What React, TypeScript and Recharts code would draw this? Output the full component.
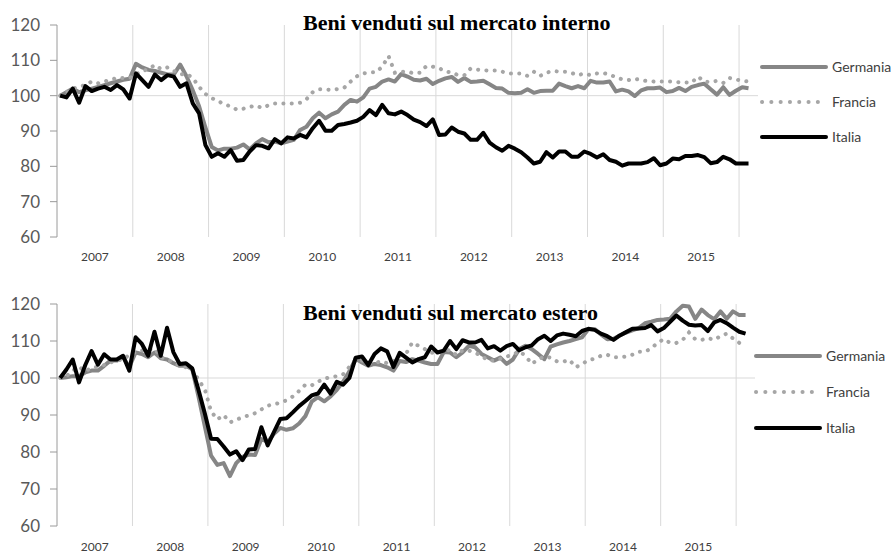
import { Line, LineChart, ReferenceLine, XAxis, YAxis } from "recharts";

// monthly index numbers, Jan 2007 = 100, Jan 2007 .. Feb 2016
const years = ["2007", "2008", "2009", "2010", "2011", "2012", "2013", "2014", "2015"];
const yTicks = [60, 70, 80, 90, 100, 110, 120];

const germaniaInterno = [
  100, 101, 102, 101, 101.5, 102, 102.5, 103, 103.5, 104, 104.5, 104.8,
  109, 108, 107.3, 107, 106.5, 106, 106, 108.8, 105.5, 101.5, 97, 91,
  85.5, 84.5, 85, 85, 85.3, 86.2, 84.8, 86.5, 87.7, 86.8, 87, 86.5,
  87, 87.5, 90.3, 91.2, 93.6, 95.2, 93.6, 94.7, 95.5, 97.4, 98.8, 98.3,
  99.5, 102, 102.5, 104, 104.6, 104, 106.1, 105.4, 104.5, 104.3, 104.8, 103.3,
  104.2, 104.9, 105.3, 103.9, 105, 103.9, 104, 104.2, 103.2, 102.2, 102, 100.8,
  100.7, 100.8, 101.8, 100.8, 101.3, 101.4, 101.4, 103.4, 102.7, 102.1, 102.7, 102.1,
  104.2, 103.7, 103.7, 104, 101.2, 101.7, 101.2, 99.9, 101.5, 102.1, 102.1, 102.3,
  101, 101.3, 102.2, 101.3, 102.5, 103, 103.4, 101.8, 100.3, 102.4, 100.2, 101.4,
  102.4, 102.1,
];

const franciaInterno = [
  100, 101, 102, 102.5, 103, 104, 103.5, 104, 104.5, 105, 105, 105,
  106, 107, 107.5, 108.7, 107.5, 108, 107, 106, 106.2, 105, 102.5, 100.5,
  99.3, 98.5, 97.5, 97, 96, 96.3, 96.8, 97.2, 96.5, 97.3, 97.8, 97.8,
  97.8, 97.8, 98, 99, 101, 101.8, 101.8, 101.6, 101.9, 102.3, 104, 105.5,
  106.3, 106.6, 106.6, 108.2, 111.2, 106.5, 106.8, 106.8, 106.3, 106.5, 108.4, 108.2,
  107.8, 106.8, 106.6, 105.8, 105.8, 107.7, 107.4, 107.2, 107.1, 107.1, 106.8, 106.3,
  106.3, 106.3, 105.6, 106.8, 105.6, 106.5, 107, 106.8, 106.8, 106.4, 105.8, 106.3,
  105.8, 106.3, 106.4, 106, 105.2, 104.6, 104.4, 104.8, 104.4, 104.1, 104, 104,
  104, 104, 103.8, 103.7, 103.7, 105.4, 104, 103.8, 104.2, 103.6, 105, 104.6,
  104.2, 104,
];

const italiaInterno = [
  100, 99.5, 102, 98, 102.7, 101.3, 102, 102.5, 101.6, 103, 101.8, 99.2,
  106.3, 104.4, 102.5, 106, 104.4, 105.8, 105.4, 102.5, 103.5, 97.8, 95, 86,
  82.7, 83.7, 82.7, 84.6, 81.6, 81.8, 84.2, 86, 85.8, 85.1, 87.7, 86.5,
  88.2, 87.9, 88.9, 88.2, 90.8, 92.9, 90.1, 90.1, 91.7, 92, 92.4, 92.9,
  94, 95.9, 94.5, 97.4, 95, 94.7, 95.5, 94.5, 93.2, 92.5, 91.4, 93.3,
  88.9, 89, 91, 89.8, 89.3, 87.5, 87.5, 89.5, 86.7, 85.4, 84.4, 85.8,
  85, 84, 82.5, 80.8, 81.3, 84, 82.5, 84.2, 84.2, 82.7, 82.7, 84.2,
  83.5, 82.5, 83.4, 81.8, 81.3, 80.2, 80.8, 80.8, 80.8, 81.2, 82.3, 80.3,
  80.8, 82.2, 82, 82.9, 82.9, 83.2, 82.6, 80.9, 81.2, 82.7, 82, 80.8,
  80.8, 80.8,
];

const germaniaEstero = [
  100, 100.2, 100.5, 100.5, 101.5, 102, 102, 103.3, 104.7, 104.7, 105.6, 103,
  106.9, 106.5, 105.6, 106.9, 105.3, 105, 104, 103.3, 103.3, 102.4, 95, 87,
  79, 76.5, 77, 73.5, 77, 78.7, 79.3, 79.2, 83.5, 82.7, 84.9, 86.5,
  86, 86.4, 87.7, 89.7, 93.6, 94.8, 93.7, 95, 96.8, 99, 101.8, 105.2,
  104.2, 103.3, 103.8, 103.5, 102.9, 102, 104.6, 104.3, 105.1, 104.7, 104.2, 103.8,
  103.8, 107, 106.9, 105.6, 106.9, 108.7, 108.3, 106.5, 105.6, 104.7, 105.5, 103.8,
  105, 107.8, 108.7, 107.8, 106.5, 105.1, 108.5, 109.1, 109.6, 110, 110.5, 111,
  113.2, 113.2, 111.8, 110.5, 110.6, 111.5, 112.3, 112.9, 113.5, 114.8, 115.2, 115.7,
  115.8, 116, 118, 119.5, 119.3, 116, 118.5, 117, 115.9, 118, 116, 118,
  117, 117,
];

const franciaEstero = [
  100, 100.5, 102, 103, 101.8, 102.8, 103, 103.5, 104.2, 104.7, 105, 106.3,
  107, 107.4, 107.6, 108, 105.7, 105, 104.2, 103.3, 102.9, 102.4, 99.5, 97,
  91, 88.8, 90, 88, 88.7, 89.4, 89.9, 90.5, 91.5, 92.5, 92.9, 93.3,
  94, 95, 96.5, 98.2, 98, 99, 99.8, 100.2, 100.5, 101, 103, 104.7,
  104.7, 104, 104, 104.5, 104, 104.5, 106, 106.5, 109.6, 108.7, 107.8, 106.8,
  106.8, 107.3, 107.6, 106.2, 107.5, 107.4, 106.8, 106, 104.8, 104.7, 105.2, 105.8,
  106.3, 107.2, 106, 103.8, 105, 105.8, 105.5, 104.5, 104.4, 104.9, 102.9, 103.8,
  104.8, 105.2, 106, 106.3, 105.6, 105.6, 105.8, 106.3, 107.1, 107.1, 108, 109.5,
  110.5, 109.5, 109.5, 110.3, 112.3, 110.5, 110.3, 110.8, 110.3, 111.3, 112, 110.7,
  109.5, 108.5,
];

const italiaEstero = [
  100, 102.3, 105, 98.8, 103.5, 107.3, 103.6, 106.4, 105, 105, 106, 102,
  111, 109.2, 106, 112.5, 106, 113.6, 107, 103.8, 104, 102.6, 96.8, 90.5,
  83.6, 83.5, 81.5, 79.3, 80.2, 77.8, 80.7, 80.8, 86.7, 81.8, 85.4, 88.9,
  89.1, 90.7, 92.4, 93.8, 95.3, 95.8, 98.2, 95.8, 99, 98.2, 100, 105.5,
  105.8, 103.5, 106.5, 108, 107.2, 103, 106.8, 105.5, 104.2, 105.1, 105.6, 108.5,
  106.9, 107.4, 110, 107.8, 110.2, 109.6, 109.6, 110.3, 108, 108.6, 107.4, 108.6,
  109.2, 107.5, 108.3, 108.8, 110.5, 111.4, 110, 111.5, 112, 111.7, 111.3, 112.7,
  113.3, 113, 112, 111.3, 110.3, 111.5, 112.4, 113.3, 113.4, 113.5, 114.3, 112.6,
  113.5, 115.2, 116.9, 115.5, 114.4, 114.2, 114.3, 112.7, 115, 115.7, 114.8, 113.6,
  112.5, 112,
];

const GRAY = "#868686";
const LIGHT = "#a6a6a6";
const GRID = "#d9d9d9";

const yearTicks = years.map((_, k) => k * 12 + 6);
const yearBounds = years.map((_, k) => (k + 1) * 12);

function buildRows(g: number[], f: number[], it: number[]) {
  return g.map((v, k) => ({ x: k + 0.5, germania: v, francia: f[k], italia: it[k] }));
}

type PanelProps = {
  title: string;
  top: number;
  height: number;
  marginTop: number;
  marginRight: number;
  axisHeight: number;
  tickMargin: number;
  rows: Array<{ x: number; germania: number; francia: number; italia: number }>;
  titleTop: number;
  legendX: number;
  legendY: number[];
};

function Panel(p: PanelProps) {
  const names = ["Germania", "Francia", "Italia"];
  return (
    <div style={{ position: "absolute", left: 0, top: p.top, width: 892, height: p.height }}>
      <LineChart
        width={892}
        height={p.height}
        data={p.rows}
        margin={{ top: p.marginTop, right: p.marginRight, bottom: 0, left: 0 }}
      >
        <XAxis
          type="number"
          dataKey="x"
          domain={[0, 111]}
          ticks={yearTicks}
          interval={0}
          tickFormatter={(v) => years[Math.round((Number(v) - 6) / 12)]}
          axisLine={false}
          tickLine={false}
          tickSize={6}
          tickMargin={p.tickMargin}
          height={p.axisHeight}
          tick={{ fill: "#404040", fontSize: 12 }}
        />
        <YAxis
          domain={[60, 120]}
          ticks={yTicks}
          interval={0}
          width={57}
          stroke="#9a9a9a"
          tickSize={7}
          tickMargin={10}
          tick={{ fill: "#595959", fontSize: 17 }}
        />
        {yearBounds.map((b) => (
          <ReferenceLine key={b} x={b} stroke={GRID} strokeWidth={1} />
        ))}
        <ReferenceLine y={100} stroke={GRID} strokeWidth={1} />
        <Line
          dataKey="germania"
          stroke={GRAY}
          strokeWidth={4}
          dot={false}
          strokeLinejoin="round"
          isAnimationActive={false}
        />
        <Line
          dataKey="francia"
          stroke={LIGHT}
          strokeWidth={4}
          strokeDasharray="0.1 8.2"
          strokeLinecap="round"
          dot={false}
          isAnimationActive={false}
        />
        <Line
          dataKey="italia"
          stroke="#000"
          strokeWidth={4}
          dot={false}
          strokeLinejoin="round"
          isAnimationActive={false}
        />
      </LineChart>

      <div
        style={{
          position: "absolute",
          left: 303,
          top: p.titleTop,
          fontFamily: "'Liberation Serif', 'Times New Roman', serif",
          fontWeight: "bold",
          fontSize: 22,
          lineHeight: "22px",
          whiteSpace: "nowrap",
          color: "#000",
        }}
      >
        {p.title}
      </div>

      <svg style={{ position: "absolute", left: 0, top: 0 }} width={892} height={p.height}>
        {names.map((n, k) => {
          const y = p.legendY[k];
          const dotted = n === "Francia";
          return (
            <g key={n}>
              <line
                x1={p.legendX}
                x2={p.legendX + 64}
                y1={y}
                y2={y}
                stroke={n === "Italia" ? "#000" : dotted ? LIGHT : GRAY}
                strokeWidth={4}
                strokeLinecap="round"
                strokeDasharray={dotted ? "0.1 9.2" : undefined}
              />
              <text x={p.legendX + 70} y={y} dy="0.36em" fontSize={14} fill="#404040">
                {n}
              </text>
            </g>
          );
        })}
      </svg>
    </div>
  );
}

export default function App() {
  return (
    <div
      style={{
        position: "absolute",
        left: 0,
        top: 0,
        width: 892,
        height: 557,
        background: "#fff",
        fontFamily: "Lato, 'Open Sans', sans-serif",
      }}
    >
      <Panel
        title="Beni venduti sul mercato interno"
        top={0}
        height={270}
        marginTop={25}
        marginRight={134}
        axisHeight={33}
        tickMargin={9}
        rows={buildRows(germaniaInterno, franciaInterno, italiaInterno)}
        titleTop={12}
        legendX={762}
        legendY={[67, 102, 137]}
      />
      <Panel
        title="Beni venduti sul mercato estero"
        top={280}
        height={277}
        marginTop={24}
        marginRight={137}
        axisHeight={31}
        tickMargin={10}
        rows={buildRows(germaniaEstero, franciaEstero, italiaEstero)}
        titleTop={22}
        legendX={756}
        legendY={[76, 112, 148]}
      />
    </div>
  );
}
